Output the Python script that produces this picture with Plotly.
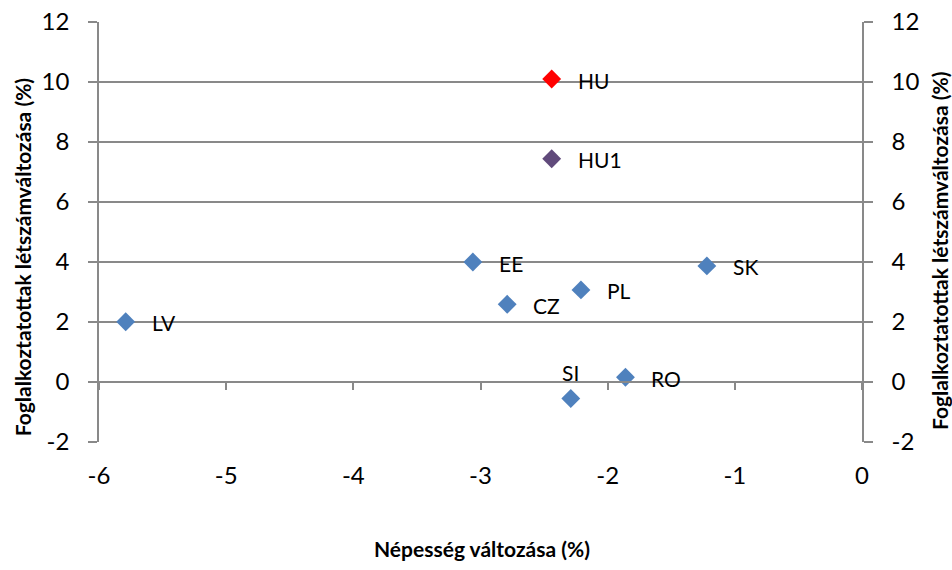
import plotly.graph_objects as go

countries = ["LV", "EE", "CZ", "PL", "SK", "SI", "RO", "HU1", "HU"]
pop_change = [-5.79, -3.06, -2.79, -2.21, -1.22, -2.29, -1.86, -2.44, -2.44]
emp_change = [2.01, 4.00, 2.59, 3.07, 3.87, -0.55, 0.16, 7.44, 10.10]
colors = ["#4F81BD"] * 7 + ["#604A7B", "#FF0000"]
label_pos = ["right"] * 5 + ["above"] + ["right"] * 3

x_ticks = [-6, -5, -4, -3, -2, -1, 0]
y_ticks = [-2, 0, 2, 4, 6, 8, 10, 12]
x_title = "Népesség változása (%)"
y_title = "Foglalkoztatottak létszámváltozása (%)"

FONT = "Lato"
GRID = "#898989"
TICKSIZE = 24
TITLESIZE = 21

fig = go.Figure()
fig.add_trace(go.Scatter(
    x=pop_change, y=emp_change, mode="markers",
    marker=dict(symbol="diamond", size=14.5, color=colors, line=dict(width=0)),
    showlegend=False, hoverinfo="skip",
))
fig.add_trace(go.Scatter(x=[None], y=[None], yaxis="y2", xaxis="x", showlegend=False))
fig.add_trace(go.Scatter(x=[None], y=[None], xaxis="x2", yaxis="y", showlegend=False))

for c, x, y, p in zip(countries, pop_change, emp_change, label_pos):
    if p == "right":
        fig.add_annotation(x=x, y=y, text=c, showarrow=False, xanchor="left",
                           yanchor="middle", xshift=24, yshift=-1,
                           font=dict(family=FONT, size=21, color="#000000"))
    else:
        fig.add_annotation(x=x, y=y, text=c, showarrow=False, xanchor="center",
                           yanchor="bottom", yshift=12,
                           font=dict(family=FONT, size=21, color="#000000"))

# axis titles
fig.add_annotation(xref="paper", yref="paper", x=0.5, xshift=1, y=0, yshift=-106, text="<b>%s</b>" % x_title,
                   showarrow=False, xanchor="center", yanchor="middle",
                   font=dict(family=FONT, size=TITLESIZE, color="#000000"))
fig.add_annotation(xref="paper", yref="paper", x=0, xshift=-77, y=0.44, text="<b>%s</b>" % y_title,
                   showarrow=False, xanchor="center", yanchor="middle", textangle=-90,
                   font=dict(family=FONT, size=TITLESIZE, color="#000000"))
fig.add_annotation(xref="paper", yref="paper", x=1.0, xshift=78, y=0.455, text="<b>%s</b>" % y_title,
                   showarrow=False, xanchor="center", yanchor="middle", textangle=-90,
                   font=dict(family=FONT, size=TITLESIZE, color="#000000"))

x_text = [str(v) for v in x_ticks]
y_text = [str(v) for v in y_ticks]
yr = [min(y_ticks), max(y_ticks)]
fig.update_layout(
    width=952, height=570,
    margin=dict(l=99, r=90, t=22, b=128),
    plot_bgcolor="white", paper_bgcolor="white",
    font=dict(family=FONT, size=TICKSIZE, color="#000000"),
    xaxis=dict(
        range=[x_ticks[0], x_ticks[-1]], tickvals=x_ticks, ticktext=x_text, showgrid=False,
        zeroline=False, showline=False, automargin=False,
        ticks="outside", ticklen=12, tickcolor="rgba(0,0,0,0)",
    ),
    xaxis2=dict(
        range=[x_ticks[0], x_ticks[-1]], tickvals=x_ticks, overlaying="x",
        anchor="free", position=(0 - yr[0]) / (yr[1] - yr[0]), side="bottom",
        showgrid=False, zeroline=False, showline=True, linecolor=GRID, linewidth=1.5,
        ticks="outside", ticklen=7, tickcolor=GRID, tickwidth=1.5,
        showticklabels=False, automargin=False,
    ),
    yaxis=dict(
        range=yr, tickvals=y_ticks, ticktext=y_text, showgrid=True, gridcolor=GRID, gridwidth=1.5,
        zeroline=False, showline=True, linecolor=GRID, linewidth=1.5,
        ticks="outside", ticklen=9, tickcolor=GRID, tickwidth=1.5,
        ticklabelstandoff=14, automargin=False,
    ),
    yaxis2=dict(
        range=yr, tickvals=y_ticks, ticktext=y_text, overlaying="y", side="right", anchor="x",
        showgrid=False, zeroline=False, showline=True, linecolor=GRID, linewidth=1.5,
        ticks="outside", ticklen=9, tickcolor=GRID, tickwidth=1.5,
        ticklabelstandoff=14, automargin=False,
    ),
)

fig.write_html("out.html", config={"displayModeBar": False},
               post_script="document.body.style.margin='0';document.body.style.overflow='hidden';")
